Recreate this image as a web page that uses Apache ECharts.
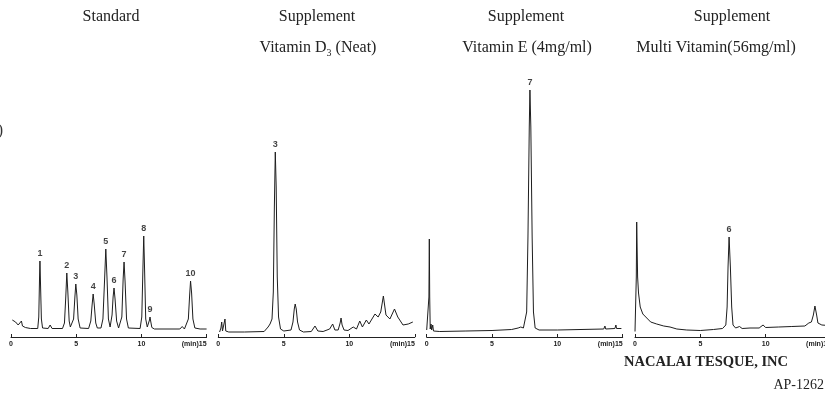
<!DOCTYPE html>
<html>
<head>
<meta charset="utf-8">
<script src="https://cdn.jsdelivr.net/npm/echarts@6/dist/echarts.min.js"></script>
<style>html,body{margin:0;padding:0;background:#fff}#c{width:825px;height:394px}</style>
</head>
<body>
<div id="c"></div>
<script>
// ---- data (time in min, detector signal in arbitrary units) ----
const xTicks = [0, 5, 10, 15];
const panelTitles = ['Standard', 'Supplement', 'Supplement', 'Supplement'];
const panelSubtitles = ['', 'Vitamin D{sub|3} (Neat)', 'Vitamin E (4mg/ml)', 'Multi Vitamin(56mg/ml)'];

const standardTrace = [
  [0.1,17],[0.2,19],[0.35,15],[0.55,12],[0.7,11],[0.8,16],[0.88,11],[1.1,9.5],[1.5,8.5],[2.05,8.5],
  [2.13,20],[2.19,60],[2.22,76],[2.26,55],[2.33,18],[2.42,9],[2.85,8.5],[3.0,12],[3.15,8.5],
  [3.95,8.5],[4.1,14],[4.2,40],[4.28,64],[4.36,45],[4.46,16],[4.55,10],
  [4.62,9.5],[4.8,18],[4.9,40],[4.97,53],[5.05,42],[5.15,18],[5.3,9],
  [5.95,8.5],[6.12,16],[6.22,32],[6.3,43],[6.38,33],[6.5,14],[6.62,9],
  [6.9,9],[7.05,18],[7.17,55],[7.27,88],[7.36,60],[7.47,18],[7.6,10],
  [7.65,11],[7.75,22],[7.83,40],[7.9,49],[7.98,38],[8.1,16],[8.25,9],
  [8.38,9],[8.5,20],[8.6,58],[8.67,75],[8.75,55],[8.86,18],[9.0,9],
  [9.9,8.5],[10.03,20],[10.12,70],[10.18,101],[10.24,70],[10.33,18],[10.45,10],
  [10.55,11],[10.62,17],[10.66,20],[10.71,16],[10.8,9.5],[11.0,8],
  [12.95,8],[13.13,10.5],[13.3,8],
  [13.45,8.5],[13.6,18],[13.7,42],[13.77,56],[13.85,44],[13.95,18],[14.1,9],[14.5,8],[15.0,8]
];
const standardPeakNames = ['1','2','3','4','5','6','7','8','9','10'];
const standardPeakTimes = [2.22, 4.28, 4.97, 6.3, 7.27, 7.9, 8.67, 10.18, 10.66, 13.77];
const standardPeakHeights = [76, 64, 53, 43, 88, 49, 75, 101, 20, 56];

const vitD3Trace = [
  [0.1,5],[0.2,9],[0.26,15],[0.32,6],[0.45,6],[0.51,18],[0.57,6],[0.8,5],[2,5],[3.5,5.5],
  [3.8,10],[3.95,13],[4.1,18],[4.2,45],[4.28,130],[4.35,185],[4.42,150],[4.5,60],[4.6,20],[4.75,8],[5.0,6],
  [5.55,7],[5.7,15],[5.8,28],[5.87,33],[5.95,28],[6.05,15],[6.2,7],[6.5,5],
  [7.1,5.5],[7.38,11],[7.6,6],[8.0,5.5],[8.5,8],[8.73,13],[8.9,7],
  [9.15,7],[9.3,14],[9.37,19],[9.45,12],[9.6,7],[9.9,6.5],
  [10.3,10],[10.55,8],[10.8,16],[11.0,10],[11.3,17],[11.5,13],[11.96,23],[12.2,20],[12.4,25],
  [12.6,41],[12.8,22],[13.1,18],[13.45,28],[13.7,20],[14.1,12],[14.5,13],[14.85,15]
];
const vitD3PeakNames = ['3'];
const vitD3PeakTimes = [4.35];
const vitD3PeakHeights = [185];

const vitETrace = [
  [0.0,7],[0.12,7],[0.17,40],[0.2,98],[0.23,40],[0.27,8],[0.33,13],[0.38,7],[0.46,12],[0.52,6],
  [1,5.5],[3,6],[5,6.5],[6.5,7.5],[7.0,9],[7.2,10],[7.4,9],
  [7.55,10],[7.65,25],[7.75,100],[7.85,210],[7.9,247],[7.97,210],[8.07,100],[8.17,25],[8.3,9],[8.6,7],
  [10,7],[13.55,8],[13.64,11],[13.7,8],[14.4,8.5],[14.48,12],[14.53,8.5],[14.9,8.5]
];
const vitEPeakNames = ['7'];
const vitEPeakTimes = [7.9];
const vitEPeakHeights = [247];

const multiTrace = [
  [0,5.5],[0.07,6],[0.1,60],[0.13,115],[0.17,115],[0.2,60],[0.27,44],[0.4,30],[0.6,23],[0.9,19],
  [1.2,15],[1.66,13],[2.2,11],[2.68,10],[3.2,8],[3.96,7],[5.0,6.5],[6.0,7.5],[6.7,8.5],
  [6.95,12],[7.05,30],[7.12,70],[7.2,100],[7.3,70],[7.4,30],[7.5,12],[7.7,9],[8.0,10.5],[8.2,8.5],
  [8.8,9],[9.5,9],[9.8,12],[10.0,9.5],[11,10],[12,10.5],[13,11],[13.3,14],[13.5,15],
  [13.65,22],[13.77,31],[13.9,22],[14.0,14],[14.3,12],[14.8,11.5]
];
const multiPeakNames = ['6'];
const multiPeakTimes = [7.2];
const multiPeakHeights = [100];

// ---- layout ----
const panels = [
  {trace: standardTrace, names: standardPeakNames, times: standardPeakTimes, heights: standardPeakHeights, left: 11, width: 195.6},
  {trace: vitD3Trace, names: vitD3PeakNames, times: vitD3PeakTimes, heights: vitD3PeakHeights, left: 218.3, width: 196.5},
  {trace: vitETrace, names: vitEPeakNames, times: vitEPeakTimes, heights: vitEPeakHeights, left: 426.7, width: 196},
  {trace: multiTrace, names: multiPeakNames, times: multiPeakTimes, heights: multiPeakHeights, left: 635, width: 196}
];
const titleCenters = [111, 317, 526, 732];
const subCenters = [0, 318, 527, 716];

const grid = [], xAxis = [], yAxis = [], series = [];
panels.forEach((p, i) => {
  grid.push({left: p.left, width: p.width, top: 87, height: 250, outerBoundsMode: 'none', containLabel: false});
  xAxis.push({
    type: 'value', gridIndex: i, min: xTicks[0], max: xTicks[xTicks.length - 1], interval: 5,
    axisLine: {show: true, lineStyle: {color: '#222', width: 1}},
    axisTick: {show: true, inside: true, length: 3, lineStyle: {color: '#222'}},
    splitLine: {show: false},
    axisLabel: {
      fontFamily: 'Liberation Sans', fontWeight: 'bold', fontSize: 7, color: '#222', margin: 4,
      alignMaxLabel: 'right', hideOverlap: false,
      formatter: v => (v === 15 ? '(min)15' : String(v))
    }
  });
  yAxis.push({type: 'value', gridIndex: i, min: 0, max: 250, show: false, splitLine: {show: false}});
  series.push({
    type: 'line', xAxisIndex: i, yAxisIndex: i, data: p.trace, symbol: 'none',
    lineStyle: {color: '#1e1e1e', width: 1}, silent: true
  });
  series.push({
    type: 'scatter', xAxisIndex: i, yAxisIndex: i, symbolSize: 0,
    data: p.times.map((t, k) => ({value: [t, p.heights[k]], name: p.names[k]})),
    label: {
      show: true, position: 'top', distance: 3, formatter: d => d.name,
      fontFamily: 'Liberation Sans', fontWeight: 'bold', fontSize: 9, color: '#111'
    },
    silent: true
  });
});

const serif = 'Liberation Serif';
const graphic = [];
panelTitles.forEach((t, i) => {
  graphic.push({type: 'text', x: titleCenters[i], y: 17,
    style: {text: t, font: '16px "' + serif + '"', fill: '#222', align: 'center', verticalAlign: 'middle'}});
  if (panelSubtitles[i]) {
    graphic.push({type: 'text', x: subCenters[i], y: 48,
      style: {text: panelSubtitles[i], fontFamily: serif, fontSize: 16, fill: '#222', align: 'center', verticalAlign: 'middle',
        lineHeight: 20,
        rich: {sub: {fontFamily: serif, fontSize: 10, fill: '#222', verticalAlign: 'bottom', lineHeight: 20}}}});
  }
});
graphic.push({type: 'text', x: 3, y: 131,
  style: {text: ')', font: '16px "' + serif + '"', fill: '#333', align: 'right', verticalAlign: 'middle'}});
graphic.push({type: 'text', x: 706, y: 362,
  style: {text: 'NACALAI TESQUE, INC', font: 'bold 14.5px "' + serif + '"', fill: '#222', align: 'center', verticalAlign: 'middle'}});
graphic.push({type: 'text', x: 824, y: 385,
  style: {text: 'AP-1262', font: '14px "' + serif + '"', fill: '#222', align: 'right', verticalAlign: 'middle'}});

const chart = echarts.init(document.getElementById('c'), null, {renderer: 'canvas'});
chart.setOption({animation: false, backgroundColor: '#fff', grid, xAxis, yAxis, series, graphic});
</script>
</body>
</html>
